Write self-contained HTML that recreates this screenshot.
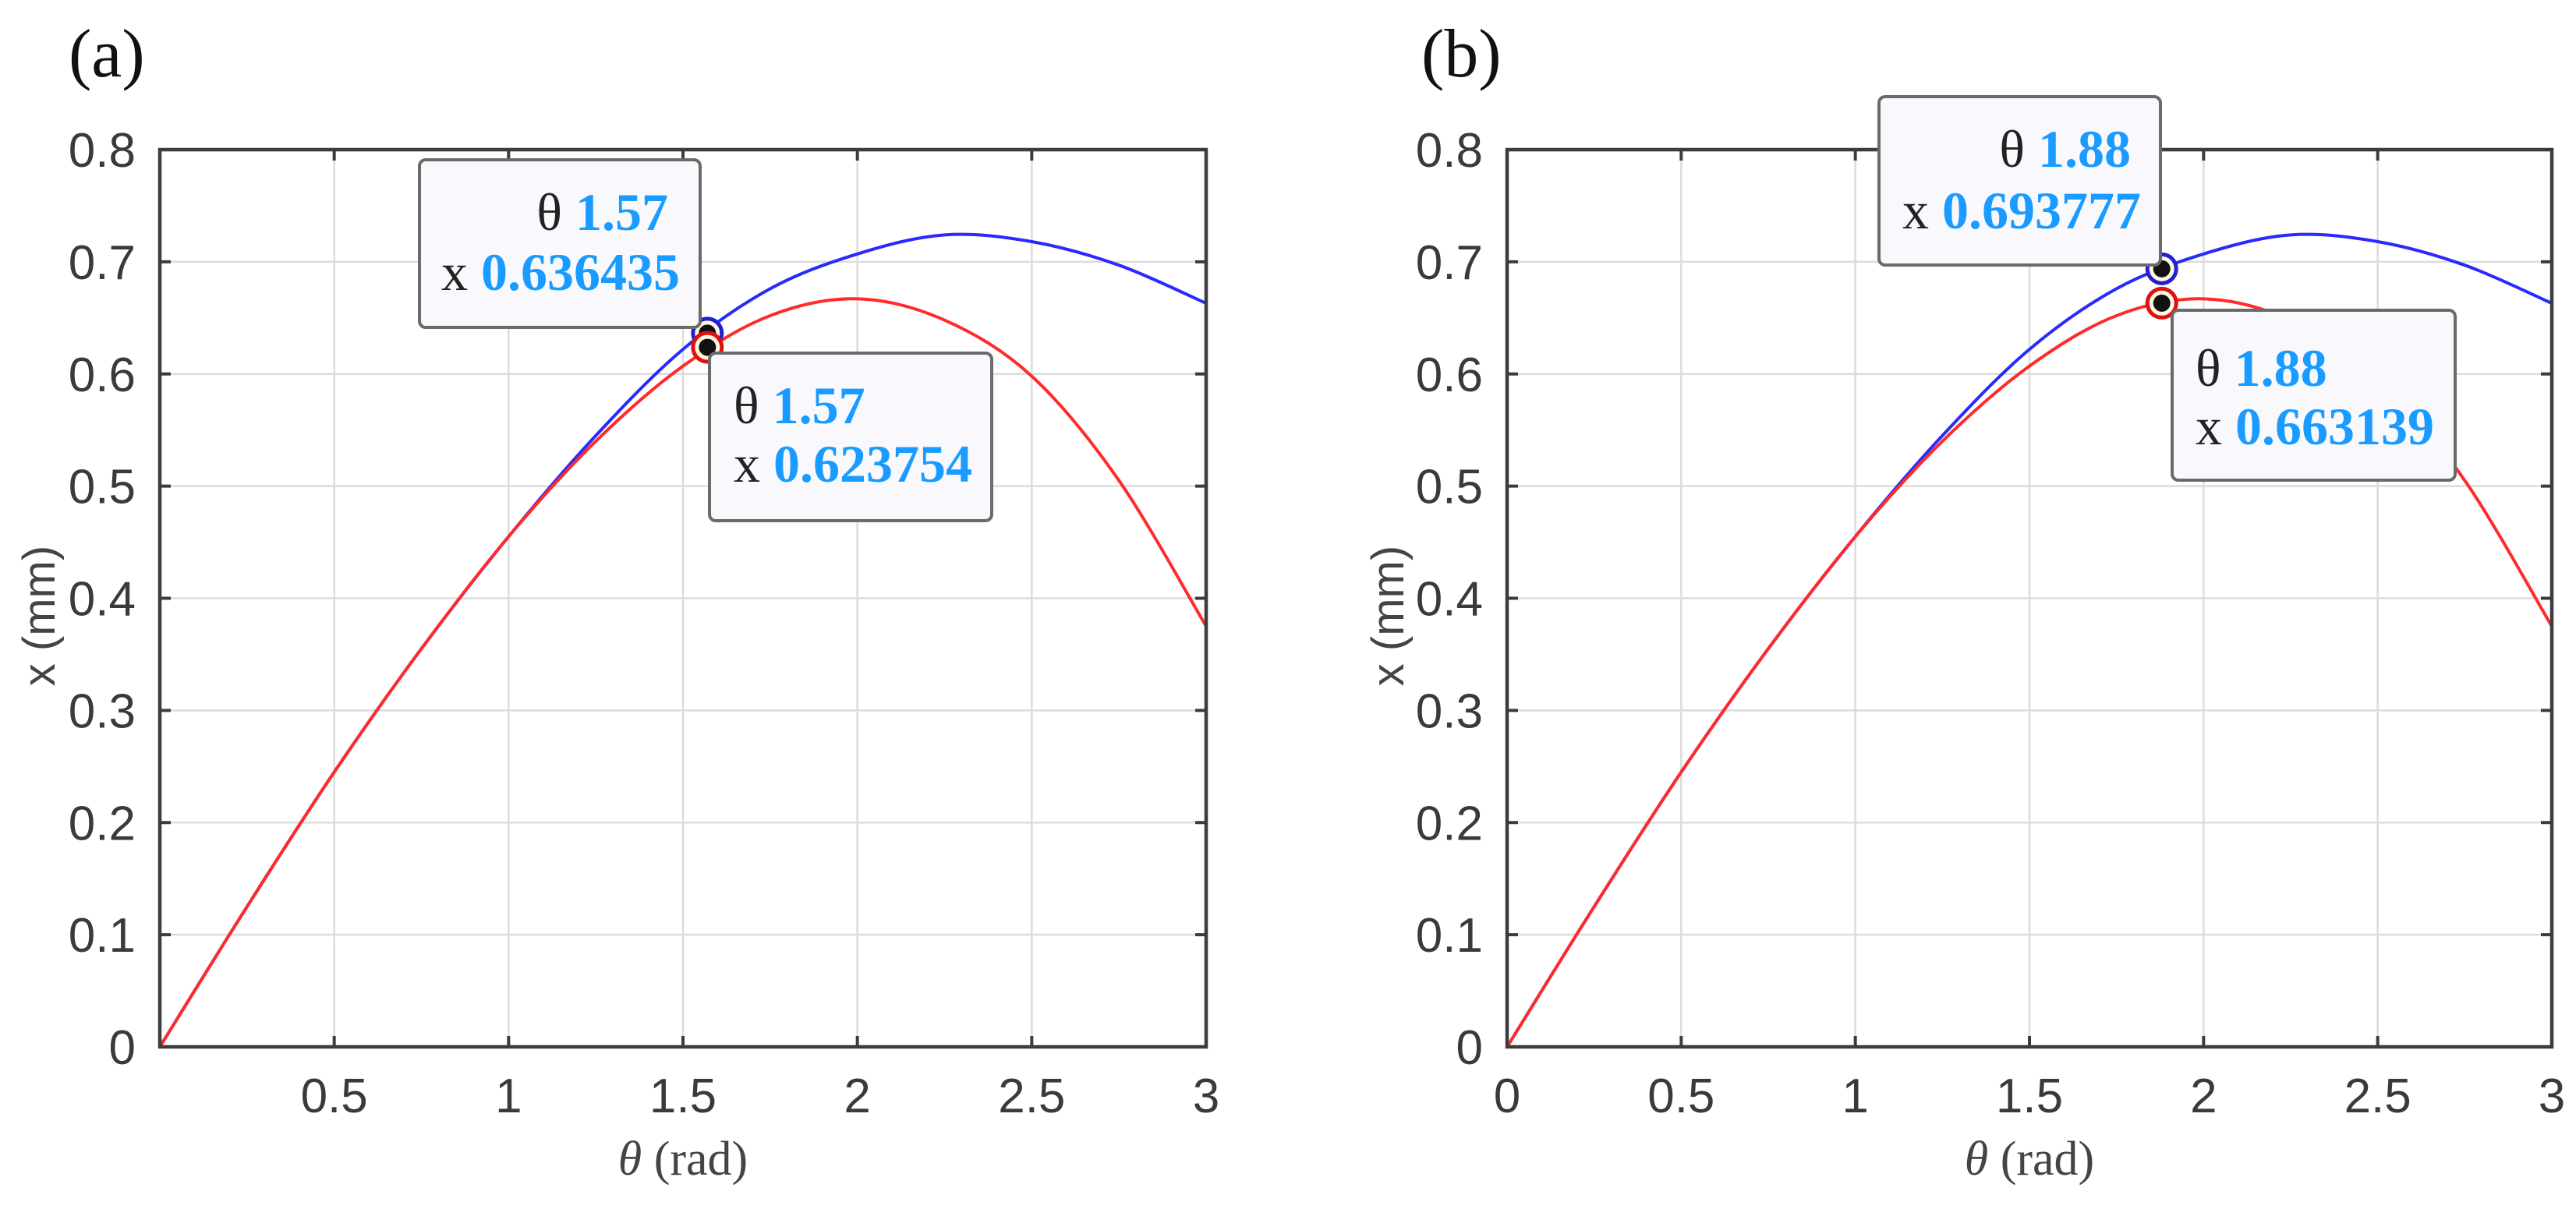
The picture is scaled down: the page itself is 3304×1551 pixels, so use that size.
<!DOCTYPE html>
<html><head><meta charset="utf-8">
<style>
html,body{margin:0;padding:0;background:#fff;}
svg{display:block;}
.tick{font-family:"Liberation Sans",sans-serif;font-size:62px;fill:#3a3a3a;}
.tt{font-family:"Liberation Serif",serif;font-size:68px;}
</style></head>
<body>
<svg id="fig" width="3304" height="1551" viewBox="0 0 3304 1551" xmlns="http://www.w3.org/2000/svg"></svg>
<script>
const thetaVals = [0, 0.25, 0.5, 0.75, 1.0, 1.25, 1.5, 1.75, 2.0, 2.25, 2.5, 2.75, 3.0];
const blueVals  = [0, 0.125, 0.245, 0.355, 0.455, 0.545, 0.622, 0.676, 0.707, 0.724, 0.718, 0.697, 0.663];
const redVals   = [0, 0.125, 0.245, 0.355, 0.455, 0.540, 0.607, 0.652, 0.667, 0.648, 0.598, 0.505, 0.375];
const xTicksA = [0.5, 1, 1.5, 2, 2.5, 3];
const xTicksB = [0, 0.5, 1, 1.5, 2, 2.5, 3];
const yTicks = [0, 0.1, 0.2, 0.3, 0.4, 0.5, 0.6, 0.7, 0.8];
const tipThetaA = 1.57, tipBlueA = 0.636435, tipRedA = 0.623754;
const tipThetaB = 1.88, tipBlueB = 0.693777, tipRedB = 0.663139;

const NS = "http://www.w3.org/2000/svg";
const svg = document.getElementById('fig');
function mk(tag, attrs, parent) {
  const e = document.createElementNS(NS, tag);
  for (const k in attrs) e.setAttribute(k, attrs[k]);
  (parent || svg).appendChild(e);
  return e;
}
function spline(pts) {
  let d = `M${pts[0][0]},${pts[0][1]}`;
  for (let i = 0; i < pts.length - 1; i++) {
    const p0 = pts[Math.max(0, i - 1)], p1 = pts[i], p2 = pts[i + 1], p3 = pts[Math.min(pts.length - 1, i + 2)];
    const c1x = p1[0] + (p2[0] - p0[0]) / 6, c1y = p1[1] + (p2[1] - p0[1]) / 6;
    const c2x = p2[0] - (p3[0] - p1[0]) / 6, c2y = p2[1] - (p3[1] - p1[1]) / 6;
    d += ` C${c1x},${c1y} ${c2x},${c2y} ${p2[0]},${p2[1]}`;
  }
  return d;
}

function panel(cfg) {
  const g = mk('g', {});
  
  
  const L = cfg.L, R = cfg.R, T = 192, B = 1343;
  const sx = v => L + (v - 0) / 3 * (R - L);
  const sy = v => B - v / 0.8 * (B - T);
  xTicksB.forEach(t => {
    if (t > 0 && t < 3) {
      const l = mk('line', {x1: sx(t), x2: sx(t), y1: T, y2: B, stroke: '#dcdcdc', 'stroke-width': 2.5}, g);
      
      
    }
  });
  yTicks.forEach(t => {
    if (t > 0 && t < 0.8) {
      const l = mk('line', {x1: L, x2: R, y1: sy(t), y2: sy(t), stroke: '#dcdcdc', 'stroke-width': 2.5}, g);
      
      
    }
  });
  const bp = thetaVals.map((t, i) => [sx(t), sy(blueVals[i])]);
  const rp = thetaVals.map((t, i) => [sx(t), sy(redVals[i])]);
  const bl = mk('path', {d: spline(bp), fill: 'none', stroke: '#2a2aff', 'stroke-width': 4}, g);
  
  
  const rl = mk('path', {d: spline(rp), fill: 'none', stroke: '#ff2a2a', 'stroke-width': 4}, g);
  
  
  const box = mk('rect', {x: L, y: T, width: R - L, height: B - T, fill: 'none', stroke: '#3c3c3c', 'stroke-width': 4.5}, g);
  
  
  cfg.xTicks.forEach(t => {
    mk('line', {x1: sx(t), x2: sx(t), y1: B, y2: B - 14, stroke: '#3c3c3c', 'stroke-width': 4}, g);
    mk('line', {x1: sx(t), x2: sx(t), y1: T, y2: T + 14, stroke: '#3c3c3c', 'stroke-width': 4}, g);
    const tx = mk('text', {x: sx(t), y: B + 84, 'text-anchor': 'middle', class: 'tick'}, g);
    tx.textContent = String(t);
    
    
  });
  yTicks.forEach(t => {
    mk('line', {x1: L, x2: L + 14, y1: sy(t), y2: sy(t), stroke: '#3c3c3c', 'stroke-width': 4}, g);
    mk('line', {x1: R, x2: R - 14, y1: sy(t), y2: sy(t), stroke: '#3c3c3c', 'stroke-width': 4}, g);
    const ty = mk('text', {x: L - 31, y: sy(t) + 22, 'text-anchor': 'end', class: 'tick'}, g);
    ty.textContent = String(t);
    
    
  });
  const yt = mk('text', {x: 0, y: 0, transform: `translate(${cfg.ytx},790) rotate(-90)`, 'text-anchor': 'middle', style: 'font-family:"Liberation Sans",sans-serif;font-size:58px;fill:#444'}, g);
  yt.textContent = 'x (mm)';
  
  
  const xt = mk('text', {x: (L + R) / 2, y: 1507, 'text-anchor': 'middle', style: 'font-family:"Liberation Serif",serif;font-size:62px;fill:#444'}, g);
  xt.innerHTML = '<tspan font-style="italic">θ</tspan> (rad)';
  
  
  const pl = mk('text', {x: cfg.plx, y: 98, style: 'font-family:"Liberation Serif",serif;font-size:88px;fill:#111'}, g);
  pl.textContent = cfg.label;
  
  
  [[cfg.tipTheta, cfg.tipBlue, '#2020d0'], [cfg.tipTheta, cfg.tipRed, '#e01010']].forEach(m => {
    const mg = mk('g', {}, g);
    
    
    mk('circle', {cx: sx(m[0]), cy: sy(m[1]), r: 21, fill: m[2]}, mg);
    mk('circle', {cx: sx(m[0]), cy: sy(m[1]), r: 16, fill: '#fff8e0'}, mg);
    mk('circle', {cx: sx(m[0]), cy: sy(m[1]), r: 11, fill: '#111'}, mg);
  });
  cfg.tips.forEach(tp => {
    const tg = mk('g', {}, g);
    
    
    mk('rect', {x: tp.x, y: tp.y, width: tp.w, height: tp.h, rx: 8, fill: '#f9f9fd', stroke: '#6a6a6a', 'stroke-width': 4}, tg);
    const anchor = tp.align === 'end' ? 'end' : 'start';
    const t1 = mk('text', {x: tp.tx, y: tp.b1, 'text-anchor': anchor, class: 'tt'}, tg);
    t1.innerHTML = `<tspan fill="#222">θ </tspan><tspan fill="#1a9bff" font-weight="bold">${tp.theta}</tspan>`;
    
    
    const t2 = mk('text', {x: tp.tx2, y: tp.b2, 'text-anchor': 'start', class: 'tt'}, tg);
    t2.innerHTML = `<tspan fill="#222">x </tspan><tspan fill="#1a9bff" font-weight="bold">${tp.val}</tspan>`;
    
    
  });
}

panel({name: 'panel-a', label: '(a)', L: 205, R: 1547, xTicks: xTicksA, ytx: 70, plx: 88,
  tipTheta: tipThetaA, tipBlue: tipBlueA, tipRed: tipRedA,
  tips: [
    {x: 538, y: 205, w: 360, h: 215, align: 'end', tx: 857, tx2: 566, b1: 295, b2: 372, theta: tipThetaA.toFixed(2), val: tipBlueA.toFixed(6)},
    {x: 910, y: 453, w: 362, h: 215, align: 'start', tx: 941, tx2: 941, b1: 543, b2: 618, theta: tipThetaA.toFixed(2), val: tipRedA.toFixed(6)}
  ]});
panel({name: 'panel-b', label: '(b)', L: 1933, R: 3273, xTicks: xTicksB, ytx: 1800, plx: 1823,
  tipTheta: tipThetaB, tipBlue: tipBlueB, tipRed: tipRedB,
  tips: [
    {x: 2410, y: 124, w: 361, h: 216, align: 'end', tx: 2733, tx2: 2440, b1: 214, b2: 293, theta: tipThetaB.toFixed(2), val: tipBlueB.toFixed(6)},
    {x: 2786, y: 398, w: 363, h: 218, align: 'start', tx: 2816, tx2: 2816, b1: 495, b2: 570, theta: tipThetaB.toFixed(2), val: tipRedB.toFixed(6)}
  ]});
</script>
</body></html>
